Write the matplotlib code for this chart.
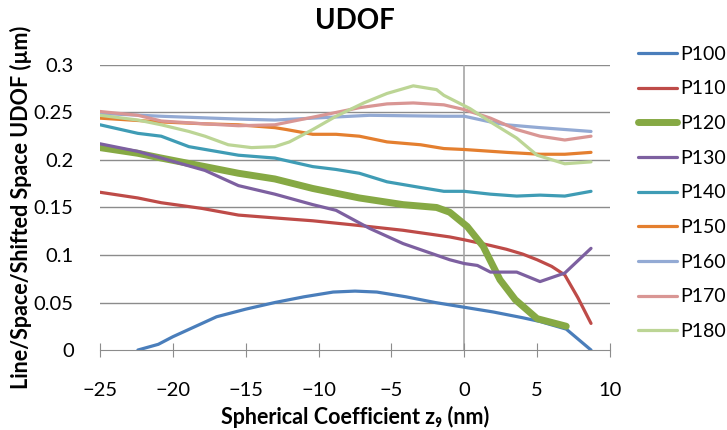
import matplotlib
matplotlib.use('Agg')
import matplotlib.pyplot as plt

plt.rcParams['font.family'] = ['Lato', 'DejaVu Sans']

# focus/UDOF curves per pitch, spherical coefficient z9 in nm
labels = ['P100', 'P110', 'P120', 'P130', 'P140', 'P150', 'P160', 'P170', 'P180']

x_p100 = [-22.4, -21, -20, -19, -18, -17, -15, -13, -11, -9, -7.5, -6, -4, -2, 0, 2, 4, 5.2, 7, 8.7]
y_p100 = [0.0, 0.006, 0.014, 0.021, 0.028, 0.035, 0.043, 0.050, 0.056, 0.061, 0.062, 0.061, 0.056, 0.050, 0.045, 0.040, 0.034, 0.030, 0.022, 0.0]

x_p110 = [-25, -22.4, -20.8, -18, -15.5, -13, -10.4, -7.2, -4.2, -1, 0, 1.8, 2.9, 4, 5, 6, 6.9, 7.8, 8.7]
y_p110 = [0.166, 0.160, 0.155, 0.149, 0.142, 0.139, 0.136, 0.131, 0.126, 0.119, 0.116, 0.110, 0.106, 0.101, 0.095, 0.088, 0.079, 0.055, 0.028]

x_p120 = [-25, -22.4, -20.8, -17.8, -15.5, -13, -10.4, -7.2, -4.2, -1.9, -1, 0.2, 1.3, 2.45, 3.5, 5, 7]
y_p120 = [0.213, 0.207, 0.202, 0.193, 0.186, 0.180, 0.170, 0.160, 0.153, 0.150, 0.145, 0.130, 0.109, 0.074, 0.053, 0.033, 0.025]

x_p130 = [-25, -22.4, -20.8, -17.8, -15.5, -13, -10.4, -8.8, -6.5, -4.2, -1, 0, 0.9, 1.8, 3.6, 5.2, 6.9, 8.7]
y_p130 = [0.217, 0.209, 0.202, 0.189, 0.173, 0.164, 0.153, 0.147, 0.128, 0.112, 0.095, 0.091, 0.089, 0.082, 0.082, 0.072, 0.081, 0.107]

x_p140 = [-25, -22.4, -20.8, -18.9, -15.5, -13, -10.4, -8.8, -7.2, -5.3, -3, -1.4, 0, 1.8, 3.6, 5.2, 6.9, 8.7]
y_p140 = [0.237, 0.228, 0.225, 0.214, 0.205, 0.202, 0.193, 0.190, 0.186, 0.177, 0.171, 0.167, 0.167, 0.164, 0.162, 0.163, 0.162, 0.167]

x_p150 = [-25, -20.8, -17.8, -15.5, -13, -12.2, -10.4, -8.8, -7.2, -5.3, -3, -1.4, 0, 2.9, 5.2, 6.9, 8.7]
y_p150 = [0.244, 0.240, 0.238, 0.237, 0.234, 0.232, 0.227, 0.227, 0.225, 0.219, 0.216, 0.212, 0.211, 0.208, 0.206, 0.206, 0.208]

x_p160 = [-25, -20.8, -15.5, -13, -10.4, -6.5, -1.4, 0, 1.8, 2.9, 5.2, 8.7]
y_p160 = [0.249, 0.246, 0.243, 0.242, 0.244, 0.247, 0.246, 0.246, 0.240, 0.237, 0.234, 0.230]

x_p170 = [-25, -22.4, -20.8, -17.8, -15.5, -13, -10.4, -7.2, -5.3, -3.5, -1.4, 0, 1.8, 3.6, 5.2, 6.9, 8.7]
y_p170 = [0.251, 0.247, 0.241, 0.238, 0.236, 0.237, 0.245, 0.255, 0.259, 0.260, 0.258, 0.253, 0.244, 0.232, 0.225, 0.221, 0.225]

x_p180 = [-25, -22.4, -20.8, -18.9, -17.8, -16.2, -14.6, -13, -12, -10.4, -8.8, -6.9, -5.3, -3.5, -1.9, -1.4, 0.4, 1.8, 3.6, 5, 6.9, 8.7]
y_p180 = [0.247, 0.242, 0.237, 0.230, 0.225, 0.216, 0.213, 0.214, 0.219, 0.232, 0.246, 0.260, 0.270, 0.278, 0.274, 0.268, 0.254, 0.240, 0.223, 0.205, 0.196, 0.198]

xs = [x_p100, x_p110, x_p120, x_p130, x_p140, x_p150, x_p160, x_p170, x_p180]
ys = [y_p100, y_p110, y_p120, y_p130, y_p140, y_p150, y_p160, y_p170, y_p180]
colors = ['#4a7ebb', '#be4b48', '#86a944', '#7d60a0', '#3f9cb5', '#e47f2f',
          '#93aad4', '#d99694', '#bcd595']
widths = [2.3, 2.3, 5.0, 2.3, 2.3, 2.3, 2.3, 2.3, 2.3]

fig = plt.figure(figsize=(7.27, 4.30), dpi=100)
ax = fig.add_axes([0.1376, 0.186, 0.7014, 0.663])

for y in [0.05, 0.1, 0.15, 0.2, 0.25, 0.3]:
    ax.axhline(y, color='#8c8c8c', lw=1.0, zorder=1)
ax.axvline(0, color='#a6a6a6', lw=1.2, zorder=1)

for x, y, c, w, lab in zip(xs, ys, colors, widths, labels):
    ax.plot(x, y, color=c, lw=w, label=lab, zorder=3, solid_capstyle='round')

ax.set_xlim(-25, 10)
ax.set_ylim(0, 0.3)
ax.set_xticks(range(-25, 11, 5))
ax.set_yticks([0, 0.05, 0.1, 0.15, 0.2, 0.25, 0.3])
ax.set_yticklabels(['0', '0.05', '0.1', '0.15', '0.2', '0.25', '0.3'])
for s in ['left', 'right', 'top']:
    ax.spines[s].set_visible(False)
ax.spines['bottom'].set_color('#8c8c8c')
ax.tick_params(axis='y', length=0, pad=19, labelsize=14.5)
ax.tick_params(axis='x', direction='inout', length=10, color='#8c8c8c', pad=18, labelsize=14.5)

ax.set_title('UDOF', fontsize=20, fontweight='bold', pad=26)
ax.set_xlabel('Spherical Coefficient z\u2089 (nm)', fontsize=15.5, fontweight='bold', labelpad=5)
ax.set_ylabel('Line/Space/Shifted Space UDOF (\u00b5m)', fontsize=15.5, fontweight='bold', labelpad=1)

ax.legend(loc='upper left', bbox_to_anchor=(1.040, 1.095), frameon=False, fontsize=14,
          handlelength=2.0, handletextpad=0.15, labelspacing=0.91, borderaxespad=0)

fig.savefig('out.png', dpi=100)
